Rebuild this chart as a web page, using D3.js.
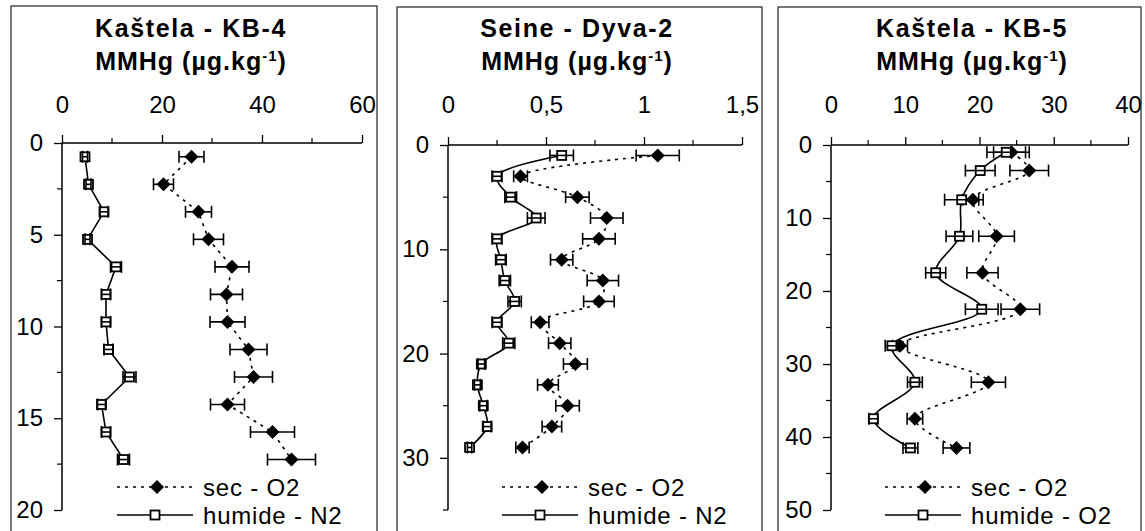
<!DOCTYPE html>
<html>
<head>
<meta charset="utf-8">
<script src="https://cdn.jsdelivr.net/npm/d3@7"></script>
<style>
  body { margin: 0; background: #fff; }
  svg text { font-family: "Liberation Sans", Arial, sans-serif; fill: #000; }
</style>
</head>
<body>
<svg id="chart"></svg>
<script>
const width = 1145;
const height = 531;

// Kaštela - KB-4
const depthKB4 = [0.75, 2.25, 3.75, 5.25, 6.75, 8.25, 9.75, 11.25, 12.75, 14.25, 15.75, 17.25];
const secKB4 = [25.9, 20.3, 27.3, 29.3, 34.0, 32.9, 33.1, 37.3, 38.3, 33.1, 42.1, 45.9];
const secErrKB4 = [2.5, 2.0, 2.6, 3.0, 3.4, 3.2, 3.5, 3.7, 3.8, 3.4, 4.4, 4.8];
const humKB4 = [4.6, 5.3, 8.4, 5.1, 10.8, 8.8, 8.8, 9.3, 13.5, 7.9, 8.8, 12.3];
const humErrKB4 = [0.5, 0.5, 0.8, 0.5, 1.1, 0.9, 0.9, 0.9, 1.3, 0.8, 0.9, 1.2];

// Seine - Dyva-2
const depthDyva = [1, 3, 5, 7, 9, 11, 13, 15, 17, 19, 21, 23, 25, 27, 29];
const secDyva = [1.07, 0.37, 0.66, 0.81, 0.77, 0.58, 0.79, 0.77, 0.47, 0.57, 0.65, 0.51, 0.61, 0.53, 0.38];
const secErrDyva = [0.11, 0.035, 0.06, 0.083, 0.083, 0.057, 0.08, 0.078, 0.045, 0.057, 0.061, 0.053, 0.06, 0.05, 0.034];
const humDyva = [0.58, 0.25, 0.32, 0.45, 0.25, 0.27, 0.29, 0.34, 0.25, 0.31, 0.17, 0.15, 0.18, 0.20, 0.11];
const humErrDyva = [0.06, 0.025, 0.03, 0.045, 0.025, 0.027, 0.029, 0.034, 0.025, 0.031, 0.017, 0.015, 0.018, 0.02, 0.011];

// Kaštela - KB-5
const depthKB5 = [1, 3.5, 7.5, 12.5, 17.5, 22.5, 27.5, 32.5, 37.5, 41.5];
const secKB5 = [24.3, 26.7, 19.1, 22.3, 20.4, 25.5, 9.3, 21.2, 11.3, 16.9];
const secErrKB5 = [2.4, 2.6, 1.4, 2.4, 2.1, 2.6, 1.0, 2.3, 1.05, 1.8];
const humKB5 = [23.6, 20.1, 17.6, 17.3, 14.1, 20.3, 8.2, 11.3, 5.7, 10.7];
const humErrKB5 = [2.6, 2.0, 2.3, 1.8, 1.35, 2.2, 0.9, 1.0, 0.6, 1.0];

const titles = ["Kaštela - KB-4", "Seine - Dyva-2", "Kaštela - KB-5"];
const xTickLabelsKB4 = [0, 20, 40, 60];
const xTickLabelsDyva = ["0", "0,5", "1", "1,5"];
const xTickLabelsKB5 = [0, 10, 20, 30, 40];
const legendSec = ["sec - O2", "sec - O2", "sec - O2"];
const legendHum = ["humide - N2", "humide - N2", "humide - O2"];

const svg = d3.select('#chart')
    .attr('width', width).attr('height', height);

const panels = [
  {
    box: [11, 6, 377, 540], titleX: 191,
    xDomain: [0, 60], xRange: [62, 362], xMajor: 20, xMinor: 10, xLabels: xTickLabelsKB4,
    yDomain: [0, 20], yRange: [143, 510], yMajor: 5, yMinor: 2.5,
    depth: depthKB4, sec: secKB4, secErr: secErrKB4, hum: humKB4, humErr: humErrKB4,
    curve: d3.curveLinear, legendX: 117, title: titles[0], legSec: legendSec[0], legHum: legendHum[0]
  },
  {
    box: [397, 7, 762, 540], titleX: 577,
    xDomain: [0, 1.5], xRange: [448, 742], xMajor: 0.5, xMinor: 0.25, xLabels: xTickLabelsDyva,
    yDomain: [0, 35], yRange: [145, 510], yMajor: 10, yMinor: 5,
    depth: depthDyva, sec: secDyva, secErr: secErrDyva, hum: humDyva, humErr: humErrDyva,
    curve: d3.curveCatmullRom.alpha(0.5), legendX: 502, title: titles[1], legSec: legendSec[1], legHum: legendHum[1]
  },
  {
    box: [778, 7, 1141, 540], titleX: 972,
    xDomain: [0, 40], xRange: [831, 1128], xMajor: 10, xMinor: 5, xLabels: xTickLabelsKB5,
    yDomain: [0, 50], yRange: [145, 510], yMajor: 10, yMinor: 5,
    depth: depthKB5, sec: secKB5, secErr: secErrKB5, hum: humKB5, humErr: humErrKB5,
    curve: d3.curveCatmullRom.alpha(0.5), legendX: 885, title: titles[2], legSec: legendSec[2], legHum: legendHum[2]
  }
];

panels.forEach(drawPanel);

function drawPanel(p) {
  const g = svg.append('g');
  const x = d3.scaleLinear().domain(p.xDomain).range(p.xRange);
  const y = d3.scaleLinear().domain(p.yDomain).range(p.yRange);

  // panel frame
  g.append('rect')
      .attr('x', p.box[0]).attr('y', p.box[1])
      .attr('width', p.box[2] - p.box[0]).attr('height', p.box[3] - p.box[1])
      .style('fill', 'none').style('stroke', '#222').style('stroke-width', 1.2);

  // title
  g.append('text')
      .attr('x', p.titleX).attr('y', 37)
      .attr('text-anchor', 'middle')
      .style('font-weight', 'bold').style('font-size', '25px').style('letter-spacing', '1.6px')
      .text(p.title);
  const unit = g.append('text')
      .attr('x', p.titleX).attr('y', 70)
      .attr('text-anchor', 'middle')
      .style('font-weight', 'bold').style('font-size', '25px').style('letter-spacing', '1px');
  unit.append('tspan').text('MMHg (µg.kg');
  unit.append('tspan').attr('dy', -9).style('font-size', '15px').text('-1');
  unit.append('tspan').attr('dy', 9).text(')');

  // x axis on top
  const xMajorTicks = d3.range(p.xDomain[0], p.xDomain[1] + 1e-9, p.xMajor);
  const xAxis = d3.axisTop(x)
      .tickValues(xMajorTicks)
      .tickSize(8)
      .tickFormat((d, i) => p.xLabels[i]);
  const xg = g.append('g')
      .attr('transform', `translate(0,${p.yRange[0]})`)
      .call(xAxis);
  xg.select('.domain').attr('d', `M${p.xRange[0]},0H${p.xRange[1]}`).style('stroke-width', 1.5);
  xg.selectAll('.tick line').style('stroke-width', 1.3);
  xg.selectAll('.tick text')
      .attr('y', 113 - p.yRange[0]).attr('dy', 0)
      .style('font-size', '24px').style('font-family', '"Liberation Sans", Arial, sans-serif');
  g.append('g')
      .selectAll('line')
      .data(d3.range(p.xDomain[0] + p.xMinor, p.xDomain[1], p.xMajor))
      .enter().append('line')
      .attr('x1', d => x(d)).attr('x2', d => x(d))
      .attr('y1', p.yRange[0]).attr('y2', p.yRange[0] - 5)
      .style('stroke', '#000').style('stroke-width', 1.2);

  // y axis
  const yAxis = d3.axisLeft(y)
      .tickValues(d3.range(p.yDomain[0], p.yDomain[1] + 1e-9, p.yMajor))
      .tickSize(8)
      .tickPadding(11);
  const yg = g.append('g')
      .attr('transform', `translate(${p.xRange[0]},0)`)
      .call(yAxis);
  yg.select('.domain').attr('d', `M0,${p.yRange[0]}V${p.yRange[1]}`).style('stroke-width', 1.5);
  yg.selectAll('.tick line').style('stroke-width', 1.3);
  yg.selectAll('.tick text')
      .style('font-size', '24px').style('font-family', '"Liberation Sans", Arial, sans-serif');
  g.append('g')
      .selectAll('line')
      .data(d3.range(p.yDomain[0] + p.yMinor, p.yDomain[1] + 1e-9, p.yMajor))
      .enter().append('line')
      .attr('x1', p.xRange[0]).attr('x2', p.xRange[0] - 5)
      .attr('y1', d => y(d)).attr('y2', d => y(d))
      .style('stroke', '#000').style('stroke-width', 1.2);

  const secData = p.depth.map((d, i) => ({ depth: d, v: p.sec[i], e: p.secErr[i] }));
  const humData = p.depth.map((d, i) => ({ depth: d, v: p.hum[i], e: p.humErr[i] }));

  const line = d3.line()
      .x(d => x(d.v))
      .y(d => y(d.depth))
      .curve(p.curve);

  g.append('path')
      .datum(secData)
      .attr('d', line)
      .style('fill', 'none').style('stroke', '#000')
      .style('stroke-width', 1.6).style('stroke-dasharray', '3,5');
  g.append('path')
      .datum(humData)
      .attr('d', line)
      .style('fill', 'none').style('stroke', '#000').style('stroke-width', 1.6);

  // sec markers (diamonds) + error bars
  drawErrorBars(g, secData, x, y);
  g.append('g').selectAll('path')
      .data(secData)
      .enter().append('path')
      .attr('d', d => diamond(x(d.v), y(d.depth), 7))
      .style('fill', '#000');

  // humide markers (open squares), error bars drawn over them
  g.append('g').selectAll('rect')
      .data(humData)
      .enter().append('rect')
      .attr('x', d => x(d.v) - 4.5).attr('y', d => y(d.depth) - 4.5)
      .attr('width', 9).attr('height', 9)
      .style('fill', '#fff').style('stroke', '#000').style('stroke-width', 1.8);
  drawErrorBars(g, humData, x, y);

  // legend
  const lx = p.legendX;
  const ly1 = 487, ly2 = 515;
  g.append('line')
      .attr('x1', lx).attr('x2', lx + 76).attr('y1', ly1).attr('y2', ly1)
      .style('stroke', '#000').style('stroke-width', 1.6).style('stroke-dasharray', '3,5');
  g.append('path')
      .attr('d', diamond(lx + 40, ly1, 7))
      .style('fill', '#000');
  g.append('text')
      .attr('x', lx + 86).attr('y', ly1).attr('dy', '0.36em')
      .style('font-size', '24px').style('letter-spacing', '0.8px')
      .text(p.legSec);
  g.append('line')
      .attr('x1', lx).attr('x2', lx + 76).attr('y1', ly2).attr('y2', ly2)
      .style('stroke', '#000').style('stroke-width', 1.6);
  g.append('rect')
      .attr('x', lx + 38 - 4.5).attr('y', ly2 - 4.5).attr('width', 9).attr('height', 9)
      .style('fill', '#fff').style('stroke', '#000').style('stroke-width', 1.8);
  g.append('text')
      .attr('x', lx + 86).attr('y', ly2).attr('dy', '0.36em')
      .style('font-size', '24px').style('letter-spacing', '0.8px')
      .text(p.legHum);
}

function drawErrorBars(g, data, x, y) {
  const eb = g.append('g').selectAll('g')
      .data(data)
      .enter().append('g');
  eb.append('line')
      .attr('x1', d => x(d.v - d.e)).attr('x2', d => x(d.v + d.e))
      .attr('y1', d => y(d.depth)).attr('y2', d => y(d.depth))
      .style('stroke', '#000').style('stroke-width', 1.6);
  [-1, 1].forEach(s => {
    eb.append('line')
        .attr('x1', d => x(d.v + s * d.e)).attr('x2', d => x(d.v + s * d.e))
        .attr('y1', d => y(d.depth) - 6).attr('y2', d => y(d.depth) + 6)
        .style('stroke', '#000').style('stroke-width', 1.6);
  });
}

function diamond(cx, cy, r) {
  return `M${cx},${cy - r}L${cx + r},${cy}L${cx},${cy + r}L${cx - r},${cy}Z`;
}
</script>
</body>
</html>
